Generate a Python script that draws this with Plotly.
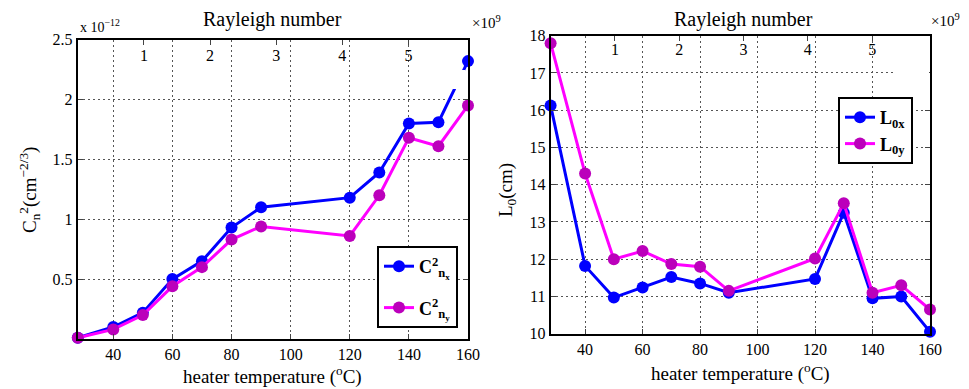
import plotly.graph_objects as go

# ---- data ----
temperature = [28, 40, 50, 60, 70, 80, 90, 120, 130, 140, 150, 160]
cn2_x = [0.01, 0.10, 0.22, 0.50, 0.65, 0.93, 1.10, 1.18, 1.39, 1.80, 1.81, 2.32]
cn2_y = [0.01, 0.08, 0.20, 0.44, 0.60, 0.83, 0.94, 0.86, 1.20, 1.68, 1.61, 1.95]
l0_x = [16.13, 11.82, 10.97, 11.24, 11.52, 11.35, 11.10, 11.47, 13.25, 10.95, 11.00, 10.05]
l0_y = [17.80, 14.30, 12.00, 12.22, 11.87, 11.80, 11.15, 12.02, 13.50, 11.10, 11.30, 10.65]
temp_ticks = [40, 60, 80, 100, 120, 140, 160]
rayleigh_ticks = [1, 2, 3, 4, 5]
cn2_ticks = [0.5, 1, 1.5, 2, 2.5]
l0_ticks = [10, 11, 12, 13, 14, 15, 16, 17, 18]

W, H = 969, 389
OFF = 8  # page body margin
def px(x): return (x - OFF) / W
def py(y): return 1 - (y - OFF) / H

FONT = "Liberation Serif"
BLUE = "#0000FF"
MAG_LINE = "#FF00FF"
MAG_MARK = "#BB00BB"

fig = go.Figure()
def series(x, y, xa, ya, name, leg, lc, mc, grp):
    fig.add_trace(go.Scatter(x=x, y=y, xaxis=xa, yaxis=ya, mode="lines+markers", name=name,
                             legend=leg, legendgroup=grp,
                             line=dict(color=lc, width=3), marker=dict(color=mc, size=12),
                             cliponaxis=False))

series(temperature, cn2_x, "x", "y", "<b>C<sup>2</sup><sub>n<sub>x</sub></sub></b>", "legend", BLUE, BLUE, "a")
series(temperature, cn2_y, "x", "y", "<b>C<sup>2</sup><sub>n<sub>y</sub></sub></b>", "legend", MAG_LINE, MAG_MARK, "b")
series(temperature, l0_x, "x2", "y2", "<b>L<sub>0x</sub></b>", "legend2", BLUE, BLUE, "c")
series(temperature, l0_y, "x2", "y2", "<b>L<sub>0y</sub></b>", "legend2", MAG_LINE, MAG_MARK, "d")

# empty traces so the top Rayleigh-number axes get drawn
for xa, ya in (("x3", "y"), ("x4", "y2"), ("x5", "y"), ("x6", "y2")):
    fig.add_trace(go.Scatter(x=rayleigh_ticks, y=[None] * len(rayleigh_ticks), xaxis=xa, yaxis=ya,
                             mode="markers", showlegend=False, hoverinfo="skip"))

tickfont = dict(family=FONT, size=16, color="black")
grid = dict(showgrid=True, gridcolor="#555", griddash="2px,3px", gridwidth=1)

def xbottom(dom):
    return dict(domain=dom, range=[28, 160], tickvals=temp_ticks, ticks="inside", ticklen=5,
                showline=True, linecolor="black", linewidth=2, mirror=True, tickfont=tickfont,
                zeroline=False, automargin=False, **grid)

def xtop_ticks(over, anchor, dom):
    return dict(overlaying=over, anchor=anchor, side="top", range=[0, 5.9], tickvals=rayleigh_ticks,
                ticks="inside", ticklen=5, showticklabels=False, showline=False,
                showgrid=False, zeroline=False, automargin=False)

def xtop_labels(over, pos, dom):
    return dict(overlaying=over, anchor="free", position=pos, side="top", range=[0, 5.9],
                tickvals=rayleigh_ticks, ticks="", showline=False, showgrid=False,
                zeroline=False, tickfont=tickfont, automargin=False)

left_dom_x = [px(77.8), px(468)]
right_dom_x = [px(550.6), px(930)]
left_dom_y = [py(339), py(39.5)]
right_dom_y = [py(333.7), py(35.7)]

fig.update_layout(
    width=W, height=H, margin=dict(l=0, r=0, t=0, b=0, autoexpand=False),
    paper_bgcolor="white", plot_bgcolor="white",
    font=dict(family=FONT, size=15, color="black"),
    xaxis=dict(anchor="y", **xbottom(left_dom_x)),
    yaxis=dict(domain=left_dom_y, anchor="x", range=[0, 2.5005], tickvals=cn2_ticks,
               ticks="inside", ticklen=5, showline=True, linecolor="black", linewidth=2,
               mirror="ticks", tickfont=tickfont, zeroline=False, automargin=False, **grid),
    xaxis2=dict(anchor="y2", **xbottom(right_dom_x)),
    yaxis2=dict(domain=right_dom_y, anchor="x2", range=[10, 18.001], tickvals=l0_ticks,
                ticks="inside", ticklen=5, showline=True, linecolor="black", linewidth=2,
                mirror="ticks", tickfont=tickfont, zeroline=False, automargin=False, **grid),
    xaxis3=xtop_ticks("x", "y", left_dom_x),
    xaxis4=xtop_ticks("x2", "y2", right_dom_x),
    xaxis5=xtop_labels("x", py(64), left_dom_x),
    xaxis6=xtop_labels("x2", py(58), right_dom_x),
    legend=dict(x=px(377), y=py(246), xanchor="left", yanchor="top", bgcolor="white",
                bordercolor="black", borderwidth=2, font=dict(family=FONT, size=18),
                tracegroupgap=15),
    legend2=dict(x=px(838), y=py(97), xanchor="left", yanchor="top", bgcolor="white",
                 bordercolor="black", borderwidth=2, font=dict(family=FONT, size=18),
                 tracegroupgap=0),
    showlegend=True,
)

ann = []
def A(text, x, y, size=17, xa="center", ya="middle", **kw):
    ann.append(dict(text=text, x=px(x), y=py(y), xref="paper", yref="paper", showarrow=False,
                    xanchor=xa, yanchor=ya,
                    font=dict(family=FONT, size=size, color="black"), **kw))

A("Rayleigh number", 272, 20, 20)
A("Rayleigh number", 743, 20, 20)
A("x 10<sup>−12</sup>", 78, 26, 14, xa="left")
A("×10<sup>9</sup>", 470, 22, 15, xa="left")
A("×10<sup>9</sup>", 929, 20, 15, xa="left")
A("heater temperature (<sup>o</sup>C)", 272, 375, 19)
A("heater temperature (<sup>o</sup>C)", 740, 372, 19)
A("C<sub>n</sub><sup>2</sup>(cm<sup>−2/3</sup>)", 30, 190, 19, textangle=-90)
A("L<sub>0</sub>(cm)", 507, 190, 19, textangle=-90)
fig.update_layout(annotations=ann)

# white patches seen in the reference near top-right corners
fig.add_shape(type="rect", xref="paper", yref="paper", x0=px(436), x1=px(465), y0=py(89), y1=py(70),
              fillcolor="white", line=dict(width=0), layer="above")
fig.add_shape(type="rect", xref="paper", yref="paper", x0=px(896), x1=px(929), y0=py(78), y1=py(64),
              fillcolor="white", line=dict(width=0), layer="above")

fig.write_html("out.html")
